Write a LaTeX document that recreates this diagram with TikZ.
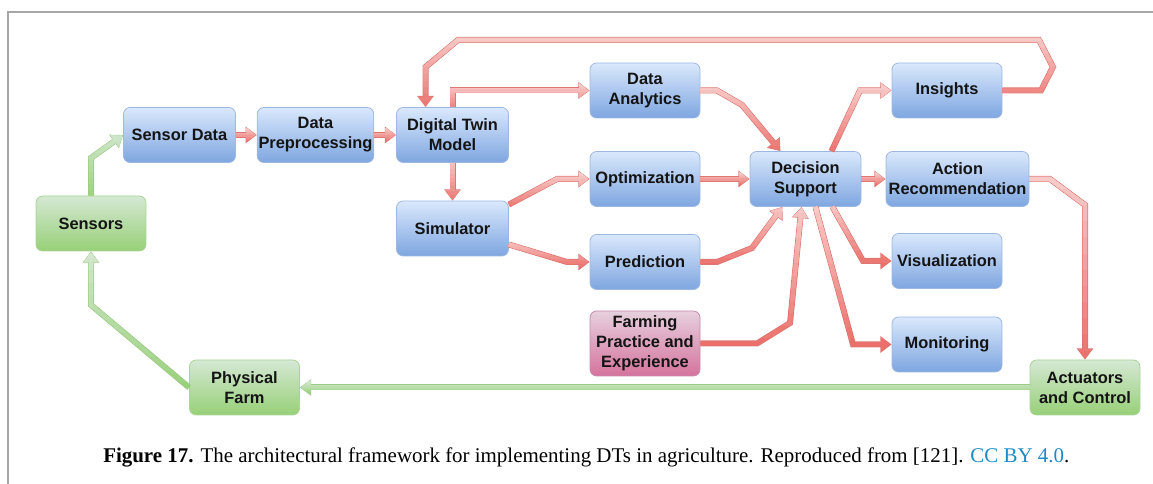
\documentclass[tikz,border=0pt]{standalone}
\usepackage{fontspec}
\setmainfont{Liberation Sans}
\newfontfamily\capfont{Liberation Serif}
\usetikzlibrary{arrows.meta,calc}
\definecolor{bTop}{HTML}{DAE8FC}
\definecolor{bBot}{HTML}{7EA6E0}
\definecolor{bStroke}{HTML}{9DB8E0}
\definecolor{gTop}{HTML}{D5E8D4}
\definecolor{gBot}{HTML}{97D077}
\definecolor{gStroke}{HTML}{A9D496}
\definecolor{pTop}{HTML}{E6D0DE}
\definecolor{pBot}{HTML}{D5739D}
\definecolor{pStroke}{HTML}{C98AAE}
\definecolor{rTop}{HTML}{F8CECC}
\definecolor{rBot}{HTML}{EA6B66}
\definecolor{rStroke}{HTML}{DC7874}
\definecolor{gaTop}{HTML}{D5E8D4}
\definecolor{gaBot}{HTML}{97D077}
\definecolor{gaStroke}{HTML}{9CCB86}
\definecolor{frameGray}{HTML}{A6A6A6}
\definecolor{linkBlue}{HTML}{1C8AC4}
\definecolor{txt}{HTML}{141414}
\tikzset{
  box/.style={rectangle, rounded corners=5pt, minimum height=41.25pt,
    minimum width=82.5pt, align=center, inner sep=1pt, line width=0.6pt,
    font=\bfseries\fontsize{12.3}{15}\selectfont, text=txt},
  bluebox/.style={box, top color=bTop, bottom color=bBot, draw=bStroke},
  greenbox/.style={box, top color=gTop, bottom color=gBot, draw=gStroke},
  pinkbox/.style={box, top color=pTop, bottom color=pBot, draw=pStroke},
  arrout/.style={line width=4.5pt, -{Triangle[width=12pt,length=8.4pt]}},
  arrin/.style={line width=3.2pt, shorten >=0.8pt, -{Triangle[width=10pt,length=7pt]}},
}
% #1 top colour, #2 bottom colour, #3 outline colour, #4 path
\newcommand\flexarr[4]{%
  \begin{scope}[local bounding box=gab]
    \path #4;
  \end{scope}
  \draw[arrout, draw=#3] #4;
  \draw[arrin, draw=#2!96!#1] #4;
  \foreach \k in {10,9,...,0}{%
    \pgfmathtruncatemacro\gpct{100*(\k+0.5)/12}%
    \begin{scope}
      \clip let \p1=(gab.north), \p2=(gab.south) in
        ({-100pt},{\y1+80pt}) rectangle ({1000pt},{\y1+5pt-(\y1-\y2+10pt)*(\k+1)/12});
      \draw[arrin, draw=#2!\gpct!#1] #4;
    \end{scope}
  }%
}
\begin{document}
\begin{tikzpicture}[x=0.75pt,y=-0.75pt]
\path (0,0) rectangle (1153,484);
\draw[frameGray, line width=1pt] (8,484) -- (8,12) -- (1153,12);

% nodes
\node[bluebox, minimum width=84pt] (sd) at (179.5,135) {Sensor Data};
\node[bluebox, minimum width=86.25pt] (dp) at (315.5,135) {Data\\Preprocessing};
\node[bluebox, minimum width=84pt] (dtm) at (452.5,135) {Digital Twin\\Model};
\node[bluebox, minimum width=84pt] (sim) at (452.5,228.5) {Simulator};
\node[greenbox] (sens) at (91,223.5) {Sensors};
\node[greenbox] (pf) at (244.5,387.5) {Physical\\Farm};
\node[bluebox] (da) at (645,90.5) {Data\\Analytics};
\node[bluebox] (opt) at (645,179) {Optimization};
\node[bluebox] (pred) at (645,262) {Prediction};
\node[pinkbox, minimum height=48.75pt] (farm) at (645,343.5) {Farming\\Practice and\\Experience};
\node[bluebox, minimum width=83.25pt] (ds) at (805.5,179) {Decision\\Support};
\node[bluebox] (ins) at (947,90.5) {Insights};
\node[bluebox, minimum width=107.25pt] (ar) at (957.5,179) {Action\\Recommendation};
\node[bluebox] (vis) at (947,261) {Visualization};
\node[bluebox] (mon) at (947,344.5) {Monitoring};
\node[greenbox] (act) at (1085,387.5) {Actuators\\and Control};

% red arrows
\flexarr{rTop}{rBot}{rStroke}{(sd.east) -- (dp.west)}
\flexarr{rTop}{rBot}{rStroke}{(dp.east) -- (dtm.west)}
\flexarr{rTop}{rBot}{rStroke}{(dtm.south) -- (sim.north)}
\flexarr{rTop}{rBot}{rStroke}{(dtm.north) |- (da.west)}
\flexarr{rTop}{rBot}{rStroke}{($(sim.east)+(0,-24)$) -- (557,179) -- (opt.west)}
\flexarr{rTop}{rBot}{rStroke}{($(sim.east)+(0,16)$) -- (567,262) -- (pred.west)}
\flexarr{rTop}{rBot}{rStroke}{(opt.east) -- (ds.west)}
\flexarr{rTop}{rBot}{rStroke}{(da.east) -- (717,90.5) -- (742,105) -- ($(ds.north)+(-25,0)$)}
\flexarr{rTop}{rBot}{rStroke}{(pred.east) -- (717,262) -- (752,248) -- ($(ds.south)+(-23,0)$)}
\flexarr{rTop}{rBot}{rStroke}{(farm.east) -- (757,343.5) -- (790,323) -- ($(ds.south)+(-4,0)$)}
\flexarr{rTop}{rBot}{rStroke}{($(ds.north)+(26,0)$) -- (860,90.5) -- (ins.west)}
\flexarr{rTop}{rBot}{rStroke}{(ds.east) -- (ar.west)}
\flexarr{rTop}{rBot}{rStroke}{($(ds.south)+(27,0)$) -- (863,261) -- (vis.west)}
\flexarr{rTop}{rBot}{rStroke}{($(ds.south)+(10,0)$) -- (853,344.5) -- (mon.west)}
\flexarr{rTop}{rBot}{rStroke}{(ins.east) -- (1041,90.5) -- (1053,67) -- (1039,40) -- (458,40) -- (425.5,67) -- ($(dtm.north)+(-27,0)$)}
\flexarr{rTop}{rBot}{rStroke}{(ar.east) -- (1050,179) -- (1085,205) -- (act.north)}

% green arrows
\flexarr{gaTop}{gaBot}{gaStroke}{(sens.north) -- (91,158) -- (sd.west)}
\flexarr{gaTop}{gaBot}{gaStroke}{(pf.west) -- (91,305) -- (sens.south)}
\flexarr{gaTop}{gaBot}{gaStroke}{(act.west) -- (pf.east)}

% caption
\node[anchor=base west, inner sep=0pt, font=\capfont\fontsize{15.7}{18}\selectfont, text=black] (cap) at (103,462)
  {\textbf{Figure 17.} The architectural framework for implementing DTs in agriculture. Reproduced from [121]. \textcolor{linkBlue}{CC BY 4.0}.};
\pgfresetboundingbox
\path[use as bounding box] (0,0) rectangle (1153,484);
\end{tikzpicture}
\end{document}
